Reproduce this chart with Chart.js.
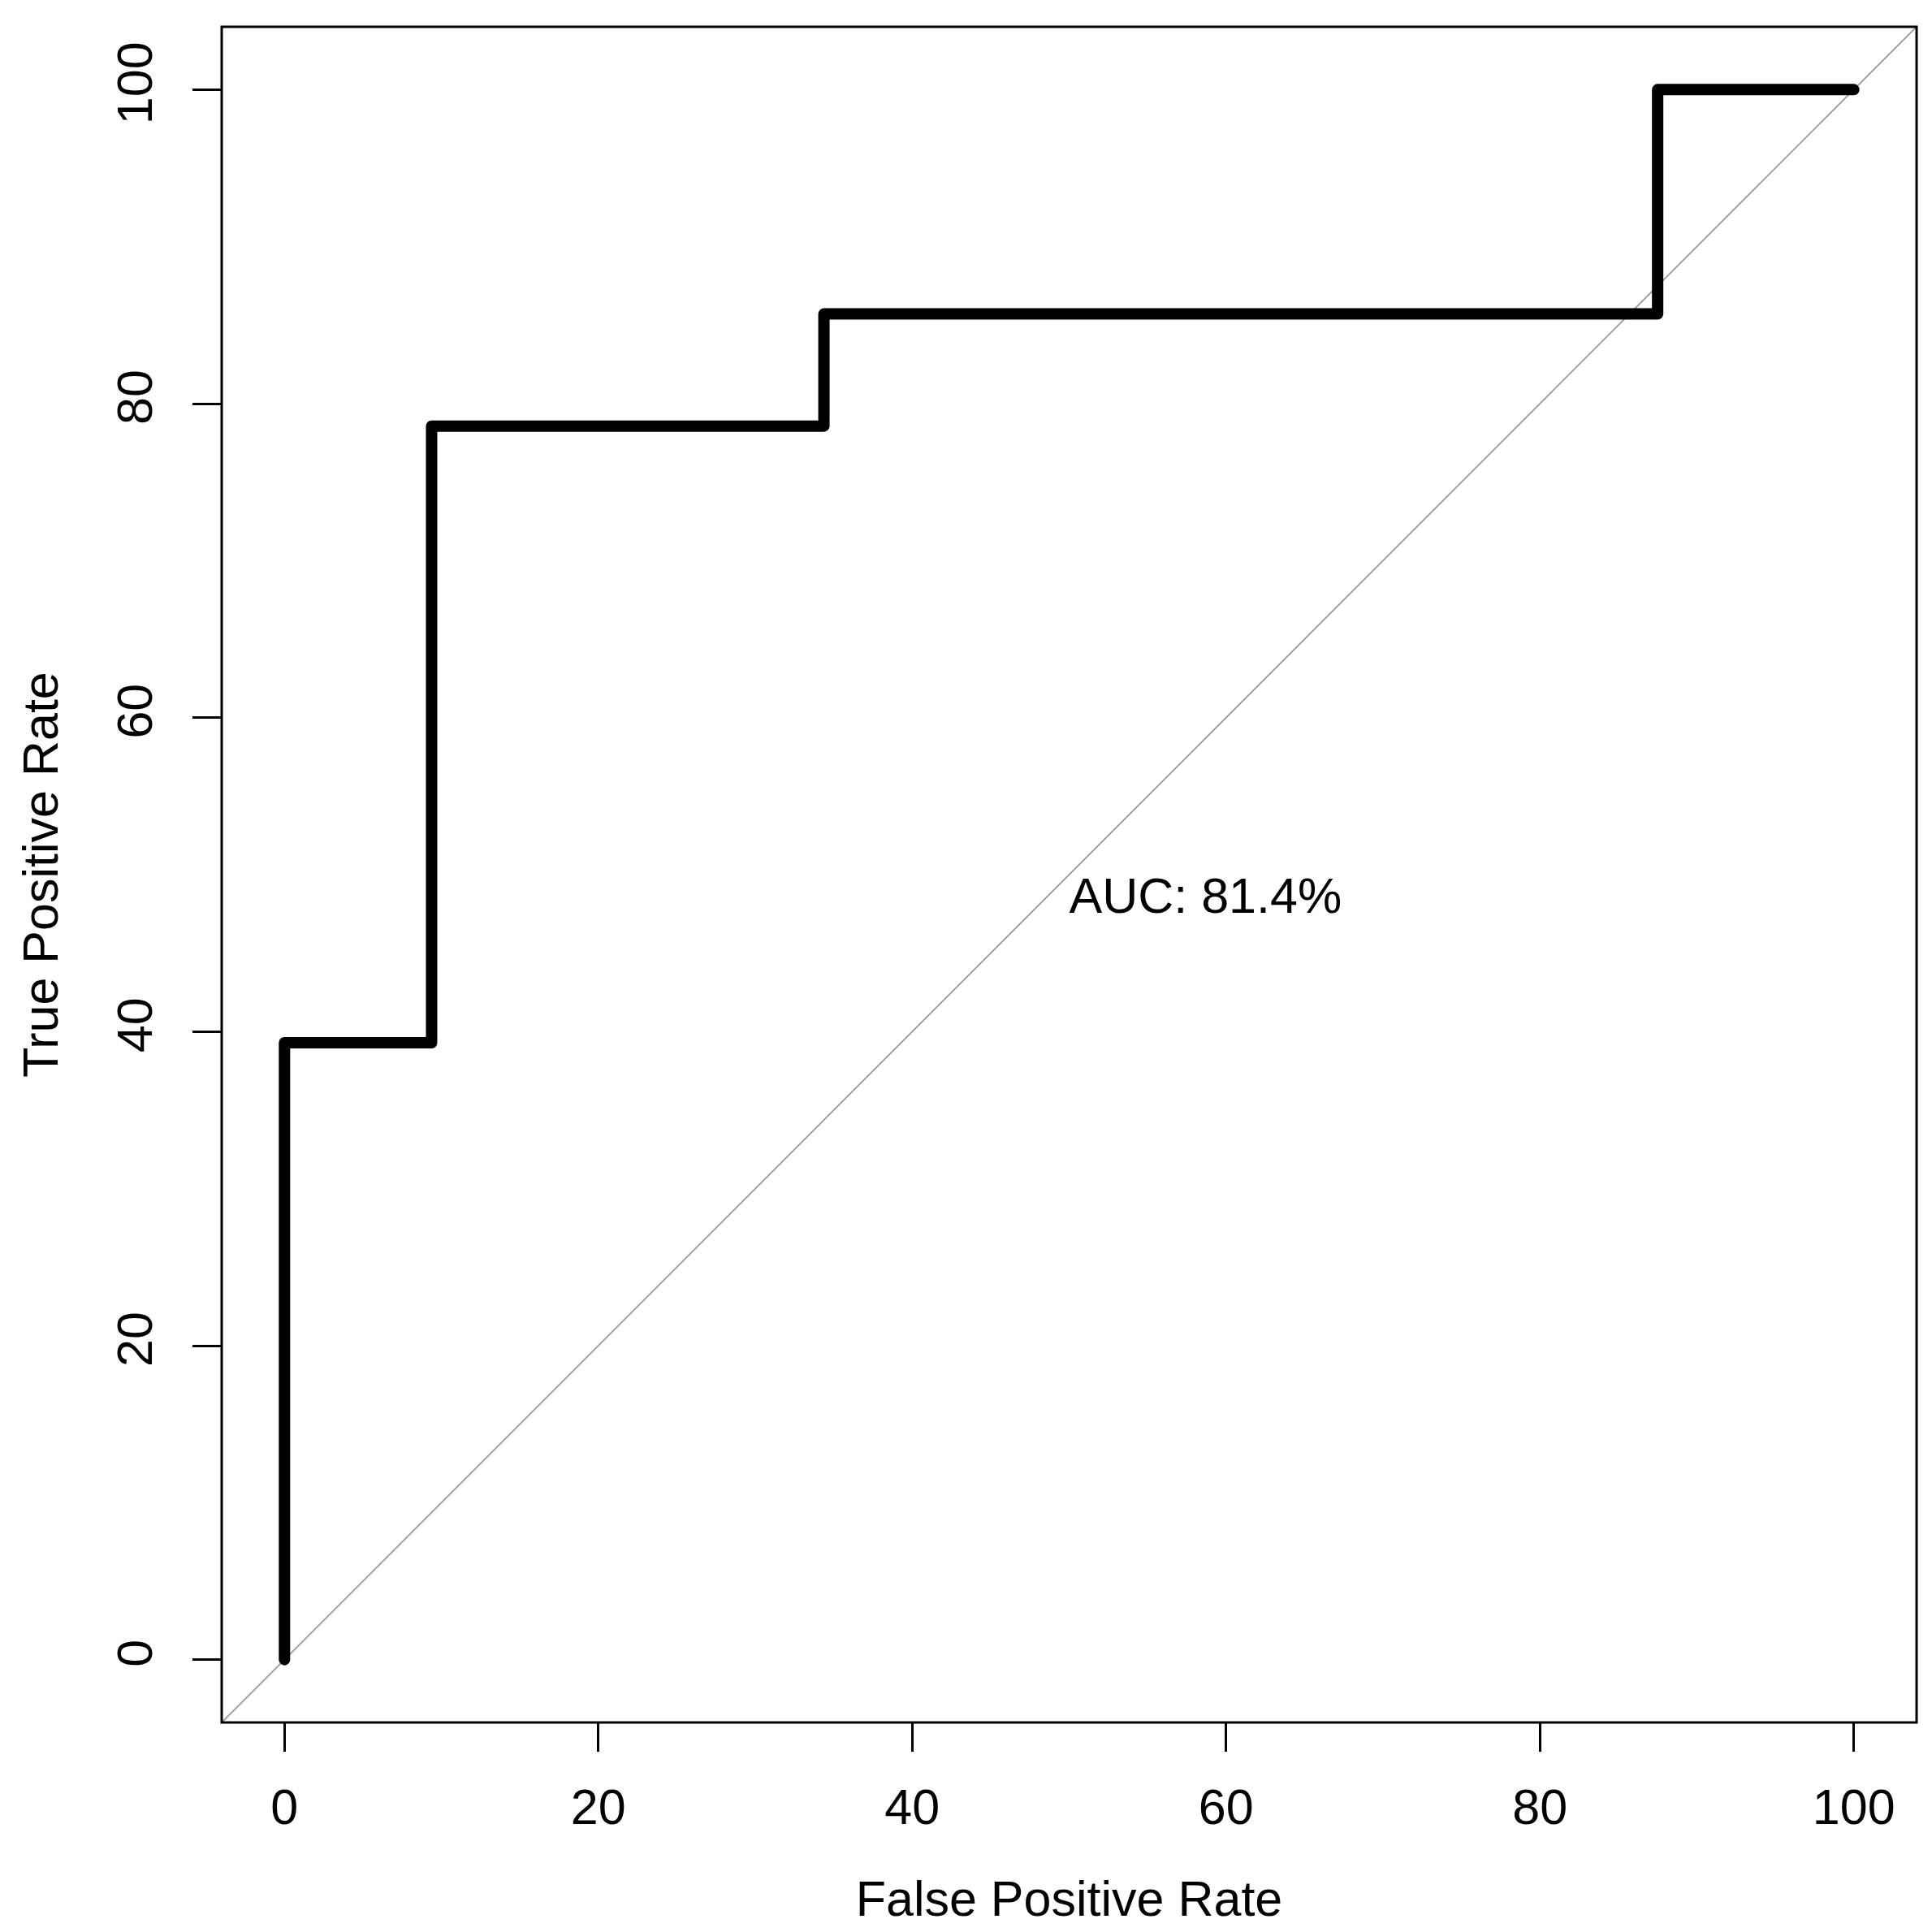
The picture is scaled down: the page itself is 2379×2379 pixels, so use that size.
<!DOCTYPE html>
<html>
<head>
<meta charset="utf-8">
<script src="https://cdn.jsdelivr.net/npm/chart.js@4"></script>
<style>
  html, body { margin: 0; padding: 0; background: #ffffff; }
  #wrap { width: 2379px; height: 2379px; position: relative; }
</style>
</head>
<body>
<div id="wrap"><canvas id="c"></canvas></div>
<script>
// ---- data ----
const fprValues = [0, 0, 9.375, 9.375, 34.375, 34.375, 87.5, 87.5, 100];
const tprValues = [0, 39.29, 39.29, 78.57, 78.57, 85.71, 85.71, 100, 100];
const diagX = [-4, 104];
const diagY = [-4, 104];
const xTickValues = [0, 20, 40, 60, 80, 100];
const yTickValues = [0, 20, 40, 60, 80, 100];
const xTitle = "False Positive Rate";
const yTitle = "True Positive Rate";
const aucLabel = "AUC: 81.4%";
const aucPos = [50, 50];

const FONT = "'Liberation Sans', Arial, sans-serif";
const FS = 61;

const rocPoints = fprValues.map((x, i) => ({ x: x, y: tprValues[i] }));
const diagPoints = diagX.map((x, i) => ({ x: x, y: diagY[i] }));

const framePlugin = {
  id: 'frame',
  afterDatasetsDraw(chart) {
    const { ctx, chartArea: a, scales } = chart;
    ctx.save();
    // box
    ctx.strokeStyle = '#000';
    ctx.lineWidth = 3;
    ctx.strokeRect(a.left, a.top, a.right - a.left, a.bottom - a.top);
    // y tick labels, rotated (reading bottom to top)
    ctx.fillStyle = '#000';
    ctx.font = FS + 'px ' + FONT;
    ctx.textAlign = 'center';
    ctx.textBaseline = 'alphabetic';
    scales.y.ticks.forEach(t => {
      const py = scales.y.getPixelForValue(t.value);
      ctx.save();
      ctx.translate(187, py - 8);
      ctx.rotate(-Math.PI / 2);
      ctx.fillText(String(t.value), 0, 0);
      ctx.restore();
    });
    // AUC annotation, top-left anchored at data point
    const ax = scales.x.getPixelForValue(aucPos[0]);
    const ay = scales.y.getPixelForValue(aucPos[1]);
    ctx.textAlign = 'left';
    ctx.fillText(aucLabel, ax, ay + 47);
    ctx.restore();
  }
};

new Chart(document.getElementById('c'), {
  type: 'scatter',
  data: {
    datasets: [
      {
        data: diagPoints,
        showLine: true,
        borderColor: '#999999',
        borderWidth: 1.8,
        pointRadius: 0,
        fill: false,
        order: 2
      },
      {
        data: rocPoints,
        showLine: true,
        borderColor: '#000000',
        borderWidth: 14,
        borderJoinStyle: 'round',
        borderCapStyle: 'round',
        pointRadius: 0,
        fill: false,
        tension: 0,
        order: 1
      }
    ]
  },
  options: {
    responsive: true,
    maintainAspectRatio: false,
    devicePixelRatio: 1,
    animation: false,
    events: [],
    layout: { padding: { left: 0, top: 33, right: 19, bottom: 0 } },
    plugins: {
      legend: { display: false },
      tooltip: { enabled: false },
      title: { display: false }
    },
    scales: {
      x: {
        type: 'linear',
        min: -4,
        max: 104,
        afterBuildTicks: s => { s.ticks = xTickValues.map(v => ({ value: v })); },
        afterFit: s => { s.height = 258; },
        grid: { display: true, drawOnChartArea: false, drawTicks: true, tickLength: 36, color: '#000', lineWidth: 3 },
        border: { display: false },
        ticks: {
          color: '#000',
          font: { family: FONT, size: FS },
          padding: 36,
          maxRotation: 0,
          minRotation: 0,
          autoSkip: false
        },
        title: {
          display: true,
          text: xTitle,
          color: '#000',
          font: { family: FONT, size: FS },
          padding: { top: 0, bottom: 0 }
        }
      },
      y: {
        type: 'linear',
        min: -4,
        max: 104,
        afterBuildTicks: s => { s.ticks = yTickValues.map(v => ({ value: v })); },
        afterFit: s => { s.width = 273; },
        grid: { display: true, drawOnChartArea: false, drawTicks: true, tickLength: 36, color: '#000', lineWidth: 3 },
        border: { display: false },
        ticks: { display: false },
        title: {
          display: true,
          text: yTitle,
          color: '#000',
          font: { family: FONT, size: FS },
          padding: { top: 18, bottom: 0 }
        }
      }
    }
  },
  plugins: [framePlugin]
});
</script>
</body>
</html>
